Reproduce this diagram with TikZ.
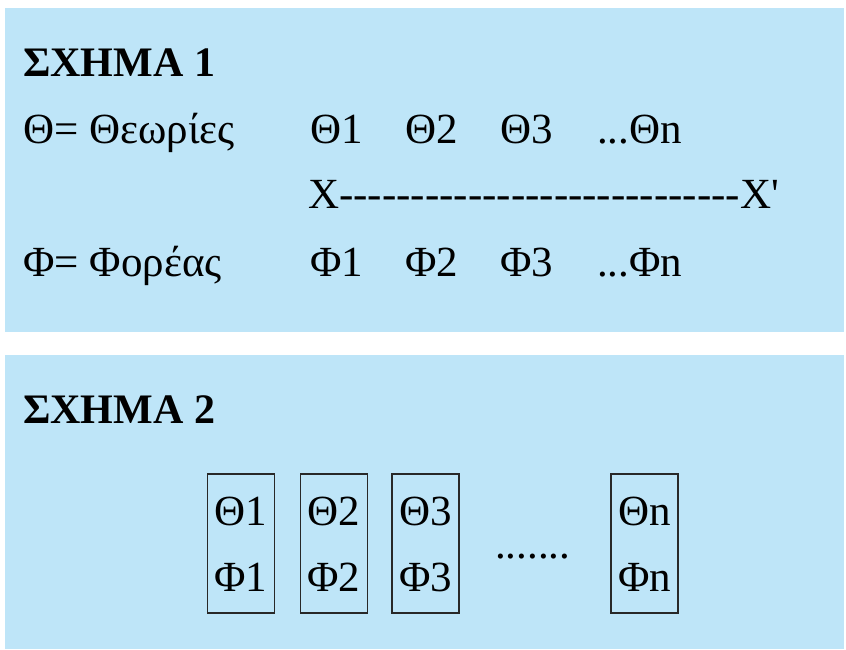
\documentclass[tikz,border=0pt]{standalone}
\usepackage{fontspec}
\setmainfont{Liberation Serif}[Ligatures=TeXOff]
\definecolor{panelblue}{RGB}{190,229,248}
\definecolor{boxline}{RGB}{40,40,40}
\begin{document}
\begin{tikzpicture}[x=1pt,y=-1pt,
  txt/.style={anchor=base west,inner sep=0pt,font=\fontsize{43}{50}\selectfont},
  ttl/.style={anchor=base west,inner sep=0pt,font=\fontsize{42}{50}\selectfont\bfseries},
  cell/.style={draw=boxline,line width=1.2pt,minimum width=67pt,minimum height=139pt,inner sep=0pt},
  ctxt/.style={anchor=base,inner sep=0pt,font=\fontsize{43}{50}\selectfont}]
\useasboundingbox (0,0) rectangle (846,650);
\fill[panelblue] (5,8) rectangle (844,332);
\fill[panelblue] (5,355) rectangle (844,649);
% panel 1
\node[ttl] (t1) at (23,77) {ΣΧΗΜΑ 1};
\node[txt] (th) at (23,143) {Θ= Θεωρίες};
\node[txt] (th1) at (310,143) {Θ1};
\node[txt] (th2) at (405,143) {Θ2};
\node[txt] (th3) at (500,143) {Θ3};
\node[txt] (thn) at (597,143) {...Θn};
\node[txt] (xx) at (308,208) {X----------------------------X'};
\node[txt] (ph) at (23,276) {Φ= Φορέας};
\node[txt] (ph1) at (310,276) {Φ1};
\node[txt] (ph2) at (405,276) {Φ2};
\node[txt] (ph3) at (500,276) {Φ3};
\node[txt] (phn) at (597,276) {...Φn};
% panel 2
\node[ttl] (t2) at (23,423) {ΣΧΗΜΑ 2};
\node[cell] (b1) at (241,543.5) {};
\node[cell] (b2) at (334,543.5) {};
\node[cell] (b3) at (425.5,543.5) {};
\node[cell] (bn) at (644.5,543.5) {};
\node[ctxt] (b1t) at (241,525) {Θ1};
\node[ctxt] (b1f) at (241,591) {Φ1};
\node[ctxt] (b2t) at (334,525) {Θ2};
\node[ctxt] (b2f) at (334,591) {Φ2};
\node[ctxt] (b3t) at (425.5,525) {Θ3};
\node[ctxt] (b3f) at (425.5,591) {Φ3};
\node[ctxt] (bnt) at (644.5,525) {Θn};
\node[ctxt] (bnf) at (644.5,591) {Φn};
\node[txt] (dots) at (495,558) {.......};
\end{tikzpicture}
\end{document}
